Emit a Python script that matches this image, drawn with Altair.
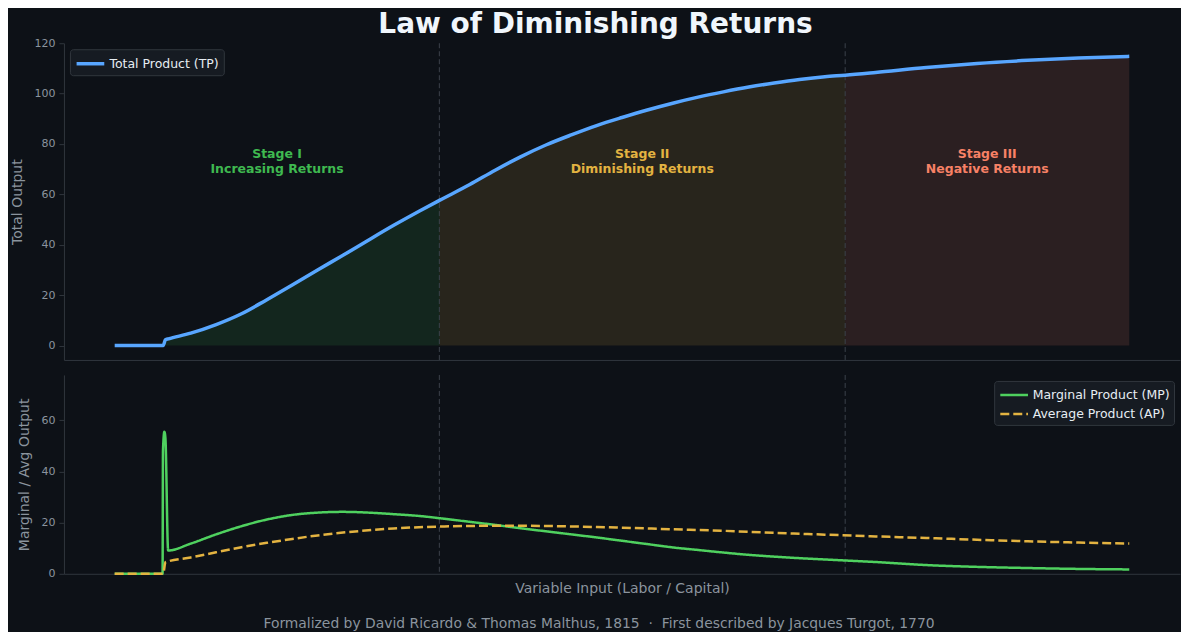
import altair as alt
import pandas as pd

# ---------------- data ----------------
x_tp = [0.0, 0.25, 0.478, 0.50, 0.53, 0.75, 1.0, 1.25, 1.5, 1.75, 2.0, 2.25, 2.5, 2.75, 3.0, 3.2,
        3.5, 3.75, 4.0, 4.25, 4.5, 4.75, 5.0, 5.25, 5.5, 5.75, 6.0, 6.25, 6.5, 6.75, 7.0, 7.2,
        7.5, 8.0, 8.5, 9.0, 9.5, 10.0]
tp = [0.0, 0.0, 0.0, 2.3, 2.65, 4.9, 8.3, 12.6, 18.2, 24.0, 30.0, 35.8, 41.8, 47.7, 53.3, 57.6,
      63.9, 69.6, 74.9, 79.6, 83.6, 87.3, 90.5, 93.5, 96.2, 98.6, 100.7, 102.6, 104.2, 105.6, 106.7, 107.3,
      108.4, 110.4, 112.0, 113.2, 114.1, 114.8]

x_mp = [0.0, 0.25, 0.46, 0.472, 0.476, 0.49, 0.50, 0.527, 0.75, 1.0, 1.25, 1.5, 1.75, 2.0, 2.25, 2.5,
        2.75, 3.0, 3.25, 3.5, 3.75, 4.0, 4.25, 4.5, 4.75, 5.0, 5.25, 5.5, 5.75, 6.0, 6.25, 6.5,
        6.75, 7.0, 7.25, 7.5, 8.0, 8.5, 9.0, 9.5, 10.0]
mp = [0.0, 0.0, 0.0, 0.0, 48.0, 55.5, 53.0, 9.1, 11.8, 15.4, 18.6, 21.2, 23.0, 23.9, 24.2, 23.9,
      23.3, 22.6, 21.5, 20.3, 19.1, 17.8, 16.6, 15.4, 14.2, 12.9, 11.6, 10.3, 9.3, 8.3, 7.4, 6.7,
      6.1, 5.6, 5.1, 4.6, 3.4, 2.7, 2.25, 1.9, 1.7]

x_ap = [0.0, 0.25, 0.478, 0.50, 0.75, 1.0, 1.25, 1.5, 1.75, 2.0, 2.25, 2.5, 2.75, 3.0, 3.25, 3.5,
        3.75, 4.0, 4.5, 5.0, 5.5, 6.0, 6.5, 7.0, 7.5, 8.0, 8.5, 9.0, 9.5, 10.0]
ap = [0.0, 0.0, 0.0, 4.5, 6.4, 8.4, 10.4, 12.1, 13.6, 15.0, 16.1, 17.0, 17.7, 18.2, 18.5, 18.7,
      18.75, 18.75, 18.5, 18.0, 17.4, 16.8, 16.0, 15.3, 14.6, 14.0, 13.3, 12.7, 12.2, 11.8]

stage_bounds = [3.2, 7.2]
stage_starts = [0.0, 3.2, 7.2]
stage_ends = [3.2, 7.2, 10.0]
stage_labels = ["Stage I\nIncreasing Returns", "Stage II\nDiminishing Returns", "Stage III\nNegative Returns"]
stage_label_x = [1.6, 5.2, 8.6]
stage_label_y = [76.2, 76.2, 76.2]
stage_colors = ["#3fb950", "#e3b341", "#f78166"]

TP_NAME = "Total Product (TP)"
MP_NAME = "Marginal Product (MP)"
AP_NAME = "Average Product (AP)"

BG = "#0d1117"
GRID = "#30363d"
MUTED = "#8b949e"
FONT = "DejaVu Sans"
LEG_SYMBOL = "M-1.6,0H1.6"

# ---------------- tables ----------------
df_tp = pd.DataFrame({"x": x_tp, "y": tp, "series": TP_NAME})

area_rows = []
for s0, s1, col in zip(stage_starts, stage_ends, stage_colors):
    for xv, yv in zip(x_tp, tp):
        if s0 <= xv <= s1:
            area_rows.append({"x": xv, "y": yv, "color": col})
df_area = pd.DataFrame(area_rows)

df_rules = pd.DataFrame({"x": stage_bounds})
df_labels = pd.DataFrame({"x": stage_label_x, "y": stage_label_y,
                          "label": stage_labels, "color": stage_colors})
df_mp = pd.DataFrame({"x": x_mp, "y": mp, "series": MP_NAME})
df_ap = pd.DataFrame({"x": x_ap, "y": ap, "series": AP_NAME})

xscale = alt.Scale(domain=[-0.5, 10.5], nice=False, zero=False)
x_top = alt.X("x:Q", scale=xscale,
              axis=alt.Axis(labels=False, ticks=False, title=None, grid=False))
x_bot = alt.X("x:Q", scale=xscale,
              axis=alt.Axis(labels=False, ticks=False, grid=False,
                            title="Variable Input (Labor / Capital)", titlePadding=8))

ytop_scale = alt.Scale(domain=[-5.74, 120], nice=False, zero=False)
ybot_scale = alt.Scale(domain=[0, 77.7], nice=False, zero=False)

# ---------------- top panel ----------------
areas = alt.Chart(df_area).mark_area(fillOpacity=0.13, interpolate="monotone").encode(
    x=x_top,
    y=alt.Y("y:Q", scale=ytop_scale),
    y2=alt.datum(0),
    fill=alt.Fill("color:N", scale=None),
)

rules_top = alt.Chart(df_rules).mark_rule(color="#3b424b", strokeWidth=1, strokeDash=[5, 3]).encode(
    x=alt.X("x:Q", scale=xscale)
)

labels = alt.Chart(df_labels).mark_text(
    font=FONT, fontSize=12.5, fontWeight="bold", lineBreak="\n", lineHeight=15,
    align="center", baseline="middle"
).encode(
    x=alt.X("x:Q", scale=xscale),
    y=alt.Y("y:Q", scale=ytop_scale),
    text="label:N",
    fill=alt.Fill("color:N", scale=None),
)

tp_line = alt.Chart(df_tp).mark_line(strokeWidth=3.5, interpolate="monotone", opacity=1).encode(
    x=x_top,
    y=alt.Y("y:Q", scale=ytop_scale,
            axis=alt.Axis(values=[0, 20, 40, 60, 80, 100, 120], title="Total Output",
                          grid=False, titlePadding=9)),
    color=alt.Color("series:N",
                    scale=alt.Scale(domain=[TP_NAME], range=["#58a6ff"]),
                    legend=alt.Legend(title=None, orient="top-left", offset=6,
                                      symbolStrokeWidth=3.5, symbolOpacity=1)),
)

top = alt.layer(areas, rules_top, labels, tp_line).properties(width=1117, height=317)

# ---------------- bottom panel ----------------
rules_bot = alt.Chart(df_rules).mark_rule(color="#3b424b", strokeWidth=1, strokeDash=[5, 3]).encode(
    x=alt.X("x:Q", scale=xscale)
)

line_color = alt.Color("series:N",
                       scale=alt.Scale(domain=[MP_NAME, AP_NAME], range=["#4fd15f", "#e3b341"]),
                       legend=alt.Legend(title=None, orient="top-right", offset=6,
                                         symbolStrokeWidth=2.5, symbolOpacity=1))
line_dash = alt.StrokeDash("series:N",
                           scale=alt.Scale(domain=[MP_NAME, AP_NAME], range=[[1, 0], [9, 4]]),
                           legend=alt.Legend(title=None, orient="top-right", offset=6,
                                             symbolStrokeWidth=2.5, symbolOpacity=1))
ybot = alt.Y("y:Q", scale=ybot_scale,
             axis=alt.Axis(values=[0, 20, 40, 60], title="Marginal / Avg Output",
                           grid=False, titlePadding=9))

mp_line = alt.Chart(df_mp).mark_line(strokeWidth=2.5, interpolate="monotone").encode(
    x=x_bot, y=ybot, color=line_color, strokeDash=line_dash
)
ap_line = alt.Chart(df_ap).mark_line(strokeWidth=2.5, interpolate="monotone").encode(
    x=x_bot, y=ybot, color=line_color, strokeDash=line_dash
)

bottom = alt.layer(rules_bot, mp_line, ap_line).properties(
    width=1117, height=199,
    title=alt.Title("Formalized by David Ricardo & Thomas Malthus, 1815\u00a0\u00a0\u00b7\u00a0\u00a0First described by Jacques Turgot, 1770",
                    orient="bottom", anchor="middle", frame="bounds", fontSize=13.9,
                    fontWeight="normal", color=MUTED, font=FONT, offset=21),
)

chart = alt.vconcat(top, bottom, spacing=15, bounds="flush").resolve_scale(
    color="independent", strokeDash="independent"
).resolve_legend(
    color="independent", strokeDash="independent"
).properties(
    title=alt.Title("Law of Diminishing Returns", fontSize=28, fontWeight="bold",
                    color="#f0f6fc", font=FONT, anchor="middle", frame="bounds", offset=-2),
    background=BG,
    padding={"left": 2, "top": 2, "right": 0, "bottom": 0},
).configure_view(
    stroke="transparent"
).configure_axis(
    domainColor=GRID, tickColor=GRID, labelColor=MUTED, titleColor=MUTED,
    labelFont=FONT, titleFont=FONT, labelFontSize=11, titleFontSize=14,
    titleFontWeight="normal", tickSize=5, labelPadding=4, domainWidth=1
).configure_legend(
    fillColor="#161b22", strokeColor=GRID, labelColor="#e6edf3", labelFont=FONT,
    labelFontSize=12.5, padding=4, cornerRadius=3, symbolType=LEG_SYMBOL,
    symbolSize=300, symbolOffset=6, labelOffset=8.5, rowPadding=2
)

chart.save("out.html", embed_options={"renderer": "svg", "actions": False})
